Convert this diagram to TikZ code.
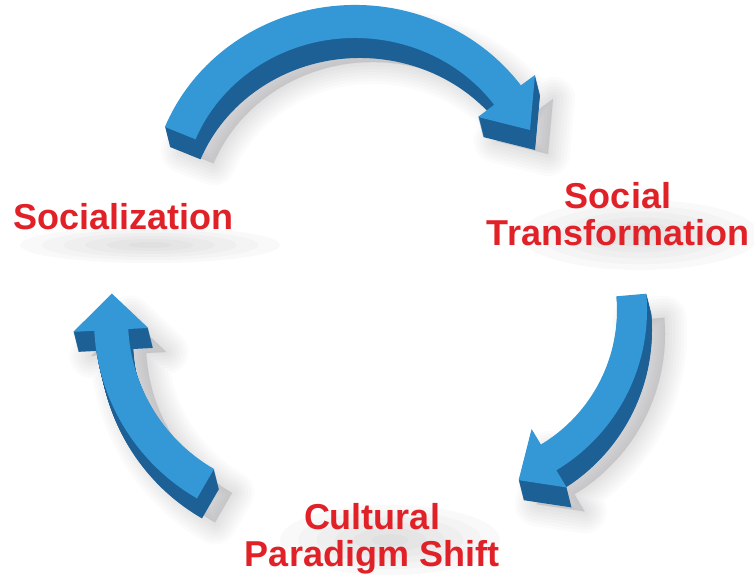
\documentclass[tikz,border=0pt]{standalone}
\usepackage{fontspec}
\newfontfamily\labelfont{Liberation Sans}
\usetikzlibrary{calc}

\definecolor{arrowtop}{RGB}{52,152,214}
\definecolor{arrowside}{RGB}{28,96,150}
\definecolor{labelred}{RGB}{224,34,40}
\definecolor{shadowtone}{RGB}{90,90,100}

\tikzset{
    cyclelabel/.style={font=\labelfont\bfseries\fontsize{36}{37}\selectfont, text=labelred, inner sep=0pt, align=center},
    haze/.style={shadowtone, opacity=0.03}
}

% arrow outlines, each drawn round its own centre
\newcommand{\arrowtoppath}{(158:205 and 195) arc[start angle=158,end angle=36,x radius=205,y radius=195] -- (180,125) -- (175,70) -- (123,83) -- (36:172 and 162) arc[start angle=36,end angle=158,x radius=172,y radius=162] -- cycle}
\newcommand{\arrowrightpath}{(5:187) arc[start angle=5,end angle=-59,radius=187] -- (-59:207) -- (-71:180) -- (-59:139) -- (-59:157) arc[start angle=-59,end angle=5,radius=157] -- cycle}
\newcommand{\arrowleftpath}{(240:206) arc[start angle=240,end angle=183,radius=206] -- (183:227) -- (172:190) -- (183:152) -- (183:172) arc[start angle=183,end angle=240,radius=172] -- cycle}

\begin{document}
\begin{tikzpicture}[x=1pt,y=1pt]
    \useasboundingbox (0,0) rectangle (754,583);
    \fill[white] (0,0) rectangle (754,583);

    % soft shadows under the labels
    \foreach \s in {1,...,6} {
        \fill[haze] (150,338) ellipse ({130*\s/6} and {18*\s/6});
        \fill[haze] (640,348) ellipse ({120*\s/6} and {35*\s/6});
        \fill[haze] (390,43) ellipse ({110*\s/6} and {35*\s/6});
    }

    % the three arrows: shadow, extruded side, top face
    \foreach \arr/\cx/\cy in {\arrowtoppath/355/383,\arrowrightpath/460/273,\arrowleftpath/300/263} {
        \foreach \w in {44,38,...,2}
            \filldraw[shadowtone, opacity=0.022, line width=\w, line join=round, shift={(\cx+18,\cy-24)}] \arr;
        \foreach \k in {1,...,20}
            \fill[arrowside, shift={({\cx+0.25*\k},{\cy-\k})}] \arr;
        \fill[arrowtop, shift={(\cx,\cy)}] \arr;
    }

    \node[cyclelabel, anchor=base] (socialization) at (123.5,353) {Socialization};
    \node[cyclelabel, anchor=north] (transformation) at (618,401) {Social\\Transformation};
    \node[cyclelabel, anchor=north] (paradigm) at (372,80) {Cultural\\Paradigm Shift};
\end{tikzpicture}
\end{document}
